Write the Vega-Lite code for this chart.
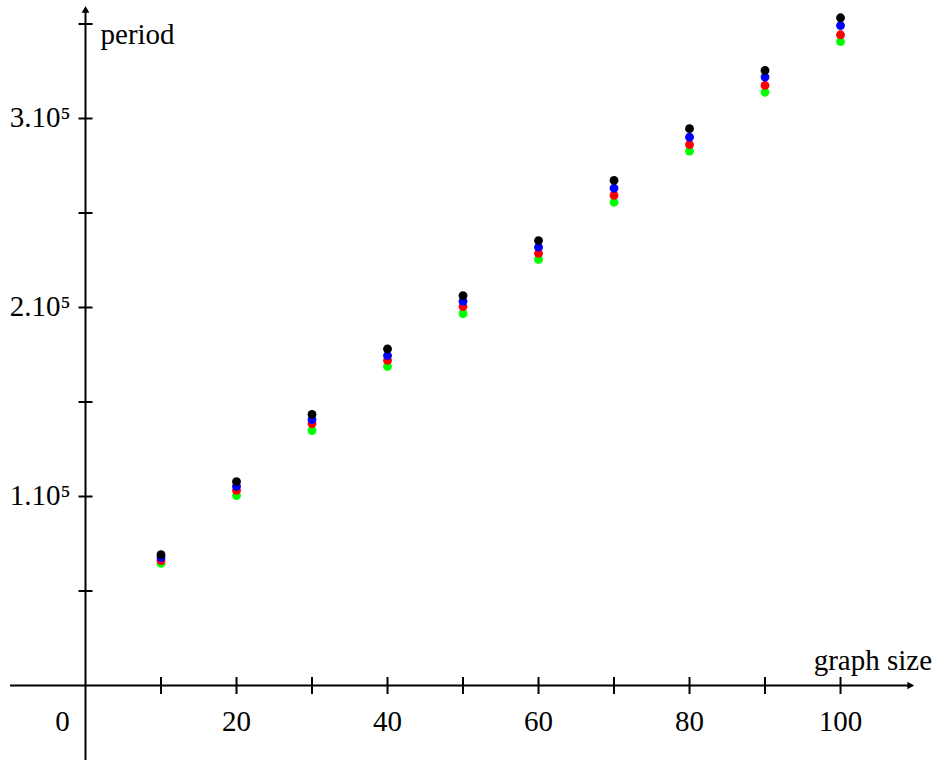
{
  "$schema": "https://vega.github.io/schema/vega-lite/v6.json",
  "width": 934,
  "height": 760,
  "autosize": {"type": "none"},
  "padding": 0,
  "background": "white",
  "data": {"values": [{}]},
  "config": {"view": {"stroke": null}, "axis": {"disable": true}, "legend": {"disable": true}, "text": {"font": "'Liberation Serif', 'DejaVu Serif', serif", "fontSize": 29, "fill": "black"}},
  "datasets": {
    "pts": [
      {"n": 10, "s": "a", "period": 69200}, {"n": 10, "s": "b", "period": 67700}, {"n": 10, "s": "c", "period": 66100}, {"n": 10, "s": "d", "period": 64600},
      {"n": 20, "s": "a", "period": 107900}, {"n": 20, "s": "b", "period": 105400}, {"n": 20, "s": "c", "period": 103200}, {"n": 20, "s": "d", "period": 100500},
      {"n": 30, "s": "a", "period": 143400}, {"n": 30, "s": "b", "period": 140700}, {"n": 30, "s": "c", "period": 138500}, {"n": 30, "s": "d", "period": 134900},
      {"n": 40, "s": "a", "period": 178100}, {"n": 40, "s": "b", "period": 174600}, {"n": 40, "s": "c", "period": 172000}, {"n": 40, "s": "d", "period": 168800},
      {"n": 50, "s": "a", "period": 206300}, {"n": 50, "s": "b", "period": 203300}, {"n": 50, "s": "c", "period": 200500}, {"n": 50, "s": "d", "period": 196700},
      {"n": 60, "s": "a", "period": 235400}, {"n": 60, "s": "b", "period": 231900}, {"n": 60, "s": "c", "period": 228700}, {"n": 60, "s": "d", "period": 225400},
      {"n": 70, "s": "a", "period": 267200}, {"n": 70, "s": "b", "period": 263100}, {"n": 70, "s": "c", "period": 259300}, {"n": 70, "s": "d", "period": 255700},
      {"n": 80, "s": "a", "period": 294600}, {"n": 80, "s": "b", "period": 290100}, {"n": 80, "s": "c", "period": 286200}, {"n": 80, "s": "d", "period": 282700},
      {"n": 90, "s": "a", "period": 325400}, {"n": 90, "s": "b", "period": 321900}, {"n": 90, "s": "c", "period": 317500}, {"n": 90, "s": "d", "period": 313900},
      {"n": 100, "s": "a", "period": 353300}, {"n": 100, "s": "b", "period": 349200}, {"n": 100, "s": "c", "period": 344300}, {"n": 100, "s": "d", "period": 340700}
    ],
    "xt": [{"v": 10}, {"v": 20}, {"v": 30}, {"v": 40}, {"v": 50}, {"v": 60}, {"v": 70}, {"v": 80}, {"v": 90}, {"v": 100}],
    "yt": [{"v": 50000}, {"v": 100000}, {"v": 150000}, {"v": 200000}, {"v": 250000}, {"v": 300000}, {"v": 350000}],
    "xl": [{"v": 20, "label": "20"}, {"v": 40, "label": "40"}, {"v": 60, "label": "60"}, {"v": 80, "label": "80"}, {"v": 100, "label": "100"}],
    "yl": [{"v": 100000, "label": "1.10⁵"}, {"v": 200000, "label": "2.10⁵"}, {"v": 300000, "label": "3.10⁵"}]
  },
  "layer": [
    {
      "mark": {"type": "rule", "stroke": "black", "strokeWidth": 2},
      "encoding": {
        "x": {"datum": -10, "type": "quantitative", "scale": {"domain": [-11.325, 112.38], "nice": false, "zero": false}, "axis": null},
        "x2": {"datum": 109.5},
        "y": {"datum": 0, "type": "quantitative", "scale": {"domain": [-39418, 362698], "nice": false, "zero": false}, "axis": null}
      }
    },
    {
      "mark": {"type": "rule", "stroke": "black", "strokeWidth": 2},
      "encoding": {
        "x": {"datum": 0, "type": "quantitative"},
        "y": {"datum": -40000, "type": "quantitative"},
        "y2": {"datum": 358000}
      }
    },
    {
      "mark": {"type": "point", "shape": "triangle-right", "filled": true, "fill": "black", "stroke": null, "size": 60, "opacity": 1},
      "encoding": {
        "x": {"datum": 109.3, "type": "quantitative"},
        "y": {"datum": 0, "type": "quantitative"}
      }
    },
    {
      "mark": {"type": "point", "shape": "triangle-up", "filled": true, "fill": "black", "stroke": null, "size": 60, "opacity": 1},
      "encoding": {
        "x": {"datum": 0, "type": "quantitative"},
        "y": {"datum": 357700, "type": "quantitative"}
      }
    },
    {
      "data": {"name": "xt"},
      "mark": {"type": "tick", "orient": "vertical", "size": 17, "thickness": 2, "color": "black", "opacity": 1},
      "encoding": {
        "x": {"field": "v", "type": "quantitative"},
        "y": {"datum": 0, "type": "quantitative"}
      }
    },
    {
      "data": {"name": "yt"},
      "mark": {"type": "tick", "orient": "horizontal", "size": 14, "thickness": 2, "color": "black", "opacity": 1},
      "encoding": {
        "x": {"datum": 0, "type": "quantitative"},
        "y": {"field": "v", "type": "quantitative"}
      }
    },
    {
      "data": {"name": "xl"},
      "mark": {"type": "text", "align": "center", "baseline": "middle", "dy": 37},
      "encoding": {
        "x": {"field": "v", "type": "quantitative"},
        "y": {"datum": 0, "type": "quantitative"},
        "text": {"field": "label"}
      }
    },
    {
      "mark": {"type": "text", "align": "center", "baseline": "middle", "dy": 37, "dx": -23},
      "encoding": {
        "x": {"datum": 0, "type": "quantitative"},
        "y": {"datum": 0, "type": "quantitative"},
        "text": {"value": "0"}
      }
    },
    {
      "data": {"name": "yl"},
      "mark": {"type": "text", "align": "right", "baseline": "middle", "dx": -15},
      "encoding": {
        "x": {"datum": 0, "type": "quantitative"},
        "y": {"field": "v", "type": "quantitative"},
        "text": {"field": "label"}
      }
    },
    {
      "mark": {"type": "text", "align": "left", "baseline": "middle", "dx": 15, "dy": 30},
      "encoding": {
        "x": {"datum": 0, "type": "quantitative"},
        "y": {"datum": 360000, "type": "quantitative"},
        "text": {"value": "period"}
      }
    },
    {
      "mark": {"type": "text", "align": "right", "baseline": "middle", "dx": 16, "dy": -24},
      "encoding": {
        "x": {"datum": 110, "type": "quantitative"},
        "y": {"datum": 0, "type": "quantitative"},
        "text": {"value": "graph size"}
      }
    },
    {
      "data": {"name": "pts"},
      "mark": {"type": "circle", "size": 78, "opacity": 1},
      "encoding": {
        "x": {"field": "n", "type": "quantitative", "title": "graph size"},
        "y": {"field": "period", "type": "quantitative", "title": "period"},
        "color": {"field": "s", "type": "nominal", "scale": {"domain": ["a", "b", "c", "d"], "range": ["#000000", "#0000ff", "#ff0000", "#00ff00"]}, "legend": null},
        "order": {"field": "s", "sort": "descending"}
      }
    }
  ]
}
